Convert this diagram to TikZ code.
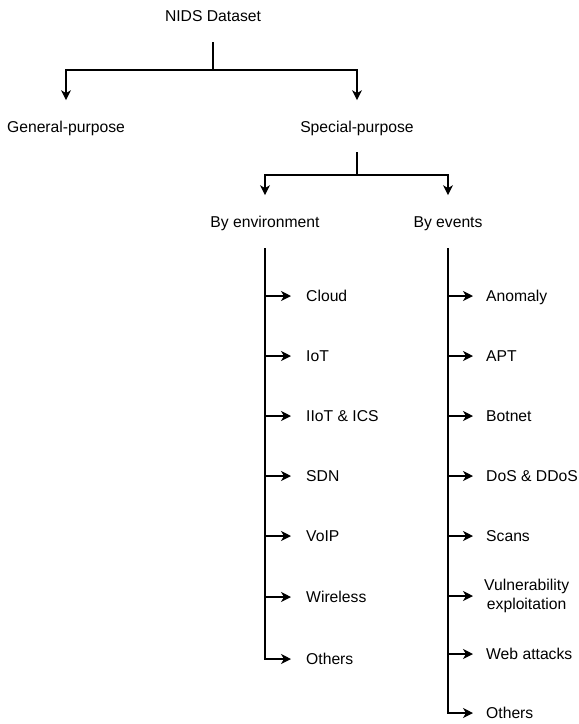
\documentclass[tikz,border=0pt]{standalone}
\usepackage{fontspec}
\setmainfont{Liberation Sans}
\usetikzlibrary{arrows.meta}
\tikzset{
  lbl/.style={font=\fontsize{15.7}{18.5}\selectfont, inner sep=0pt, text height=11.3pt, text depth=0pt},
  ln/.style={line width=1.3pt},
  arr/.style={ln, -{Stealth[length=10pt,width=10pt,inset=3pt]}},
}
\begin{document}
\begin{tikzpicture}[x=1pt,y=-1pt]
\useasboundingbox (0,0) rectangle (579,724);
% top level
\node[lbl] (root) at (213,16) {NIDS Dataset};
\node[lbl] (gp) at (66,127) {General-purpose};
\node[lbl] (sp) at (357,127) {Special-purpose};
\coordinate (r1) at (213,42);
\coordinate (r2) at (213,70);
\draw[ln] (r1) -- (r2);
\draw[arr, shorten >=21pt] (r2) -| (gp.north);
\draw[arr, shorten >=21pt] (r2) -| (sp.north);
% second level
\node[lbl] (env) at (265,222) {By environment};
\node[lbl] (evt) at (448,222) {By events};
\coordinate (s1) at (357,152);
\coordinate (s2) at (357,175);
\draw[ln] (s1) -- (s2);
\draw[arr, shorten >=21pt] (s2) -| (env.north);
\draw[arr, shorten >=21pt] (s2) -| (evt.north);
% environment items
\coordinate (et) at (265,248);
\node[lbl, anchor=west] (cloud) at (306,296) {Cloud};
\node[lbl, anchor=west] (iot) at (306,356) {IoT};
\node[lbl, anchor=west] (iiot) at (306,416) {IIoT \& ICS};
\node[lbl, anchor=west] (sdn) at (306,476) {SDN};
\node[lbl, anchor=west] (voip) at (306,536) {VoIP};
\node[lbl, anchor=west] (wire) at (306,597) {Wireless};
\node[lbl, anchor=west] (eoth) at (306,659) {Others};
\draw[arr, shorten >=15pt] (et) |- (eoth.west);
\foreach \n in {cloud,iot,iiot,sdn,voip,wire}
  \draw[arr, shorten >=15pt] (et |- \n.west) -- (\n.west);
% event items
\coordinate (vt) at (448,248);
\node[lbl, anchor=west] (anom) at (486,296) {Anomaly};
\node[lbl, anchor=west] (apt) at (486,356) {APT};
\node[lbl, anchor=west] (bot) at (486,416) {Botnet};
\node[lbl, anchor=west] (dos) at (486,476) {DoS \& DDoS};
\node[lbl, anchor=west] (scan) at (486,536) {Scans};
\node[font=\fontsize{15.7}{18.5}\selectfont, inner sep=0pt, align=center, anchor=west] (vuln) at (484,596) {Vulnerability\\exploitation};
\node[lbl, anchor=west] (web) at (486,654) {Web attacks};
\node[lbl, anchor=west] (voth) at (486,713) {Others};
\draw[arr, shorten >=13pt] (vt) |- (voth.west);
\draw[arr, shorten >=11pt] (vt |- vuln.west) -- (vuln.west);
\foreach \n in {anom,apt,bot,dos,scan,web}
  \draw[arr, shorten >=13pt] (vt |- \n.west) -- (\n.west);
\end{tikzpicture}
\end{document}
